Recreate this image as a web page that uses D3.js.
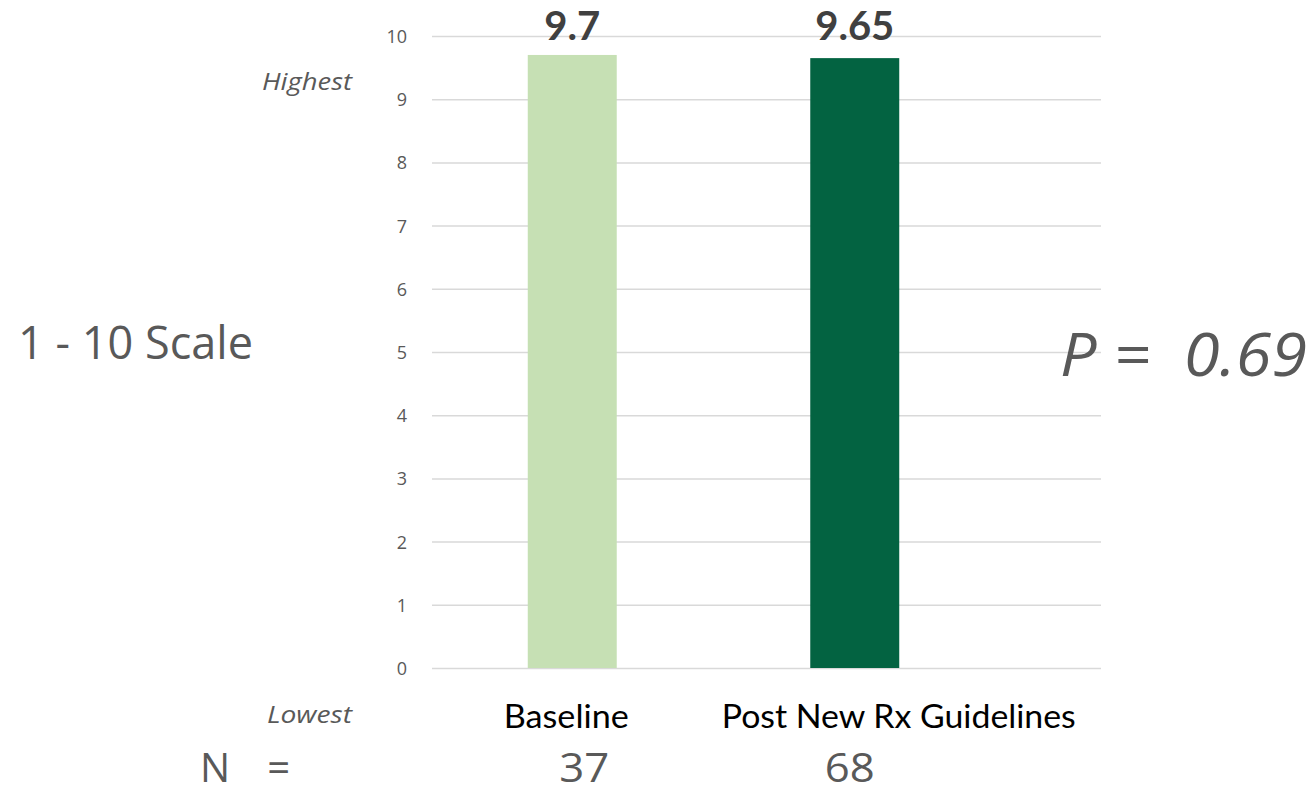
<!DOCTYPE html>
<html>
<head>
<meta charset="utf-8">
<script src="https://cdn.jsdelivr.net/npm/d3@7"></script>
<style>
  html, body { margin: 0; padding: 0; background: #ffffff; }
  svg { display: block; }
</style>
</head>
<body>
<svg id="chart" width="1314" height="793"></svg>
<script>
// Mean satisfaction score on a 1 - 10 scale, before and after the new prescribing guidelines
const categories = ["Baseline", "Post New Rx Guidelines"];
const scores = [9.7, 9.65];
const sampleSizes = [37, 68];
const yTicks = [0, 1, 2, 3, 4, 5, 6, 7, 8, 9, 10];
const pValueText = "P =  0.69";

const svg = d3.select("#chart");
const grey = "#595959";

// Plot frame
const plot = { left: 432, right: 1101, top: 36, bottom: 668 };

const y = d3.scaleLinear().domain([0, 10]).range([plot.bottom, plot.top]);
const x = d3.scaleBand()
  .domain(categories)
  .range([431, 996])
  .paddingInner(0.685)
  .paddingOuter(0.3425);

// Horizontal gridlines + tick labels via a left axis
const yAxis = d3.axisLeft(y)
  .tickValues(yTicks)
  .tickSize(-(plot.right - plot.left))
  .tickPadding(25)
  .tickFormat(d3.format("d"));

const axisG = svg.append("g")
  .attr("transform", `translate(${plot.left},0)`)
  .call(yAxis);
axisG.select(".domain").remove();
axisG.selectAll(".tick line")
  .attr("stroke", "#d9d9d9")
  .attr("stroke-width", 1.5);
axisG.selectAll(".tick text")
  .attr("fill", grey)
  .attr("font-family", "'Open Sans', sans-serif")
  .attr("font-size", 18)
  .attr("dy", "0.36em");

// Bars
const barColors = ["#c6e0b4", "#036341"];
svg.append("g").selectAll("rect")
  .data(categories)
  .join("rect")
  .attr("x", d => x(d))
  .attr("width", x.bandwidth())
  .attr("y", (d, i) => y(scores[i]))
  .attr("height", (d, i) => y(0) - y(scores[i]))
  .attr("fill", (d, i) => barColors[i]);

// Value labels above bars
svg.append("g").selectAll("text")
  .data(categories)
  .join("text")
  .attr("x", d => x(d) + x.bandwidth() / 2)
  .attr("y", 40)
  .attr("text-anchor", "middle")
  .attr("font-family", "Lato, sans-serif")
  .attr("font-weight", 700)
  .attr("font-size", 40)
  .attr("fill", "#404040")
  .text((d, i) => String(scores[i]));

// Category labels under the axis
const catOffset = [-6, 44];
svg.append("g").selectAll("text")
  .data(categories)
  .join("text")
  .attr("x", (d, i) => x(d) + x.bandwidth() / 2 + catOffset[i])
  .attr("y", 728)
  .attr("text-anchor", "middle")
  .attr("font-family", "Lato, sans-serif")
  .attr("font-size", 32)
  .attr("fill", "#000000")
  .attr("textLength", (d, i) => [125, 354][i])
  .attr("lengthAdjust", "spacingAndGlyphs")
  .text(d => d);

// Sample sizes
const nOffset = [12, -5];
svg.append("g").selectAll("text")
  .data(categories)
  .join("text")
  .attr("x", (d, i) => x(d) + x.bandwidth() / 2 + nOffset[i])
  .attr("y", 782)
  .attr("text-anchor", "middle")
  .attr("font-family", "'Open Sans', sans-serif")
  .attr("font-size", 40)
  .attr("fill", grey)
  .attr("textLength", 50)
  .attr("lengthAdjust", "spacingAndGlyphs")
  .text((d, i) => String(sampleSizes[i]));

svg.append("text")
  .attr("x", 200).attr("y", 782)
  .attr("font-family", "'Open Sans', sans-serif")
  .attr("font-size", 40)
  .attr("fill", grey)
  .attr("textLength", 90)
  .attr("lengthAdjust", "spacing")
  .style("white-space", "pre")
  .text("N  =");

// Scale annotations
svg.append("text")
  .attr("x", 352).attr("y", 90)
  .attr("text-anchor", "end")
  .attr("font-family", "'Open Sans', sans-serif")
  .attr("font-style", "italic")
  .attr("font-size", 24)
  .attr("fill", grey)
  .attr("textLength", 90)
  .attr("lengthAdjust", "spacingAndGlyphs")
  .text("Highest");

svg.append("text")
  .attr("x", 352).attr("y", 723)
  .attr("text-anchor", "end")
  .attr("font-family", "'Open Sans', sans-serif")
  .attr("font-style", "italic")
  .attr("font-size", 24)
  .attr("fill", grey)
  .attr("textLength", 85)
  .attr("lengthAdjust", "spacingAndGlyphs")
  .text("Lowest");

svg.append("text")
  .attr("x", 18).attr("y", 359)
  .attr("font-family", "'Open Sans', sans-serif")
  .attr("font-size", 46)
  .attr("fill", grey)
  .attr("textLength", 235)
  .attr("lengthAdjust", "spacingAndGlyphs")
  .text("1 - 10 Scale");

svg.append("text")
  .attr("x", 1060).attr("y", 376)
  .attr("font-family", "'Open Sans', sans-serif")
  .attr("font-style", "italic")
  .attr("font-size", 60)
  .attr("fill", grey)
  .attr("textLength", 247)
  .attr("lengthAdjust", "spacingAndGlyphs")
  .style("white-space", "pre")
  .text(pValueText);
</script>
</body>
</html>
